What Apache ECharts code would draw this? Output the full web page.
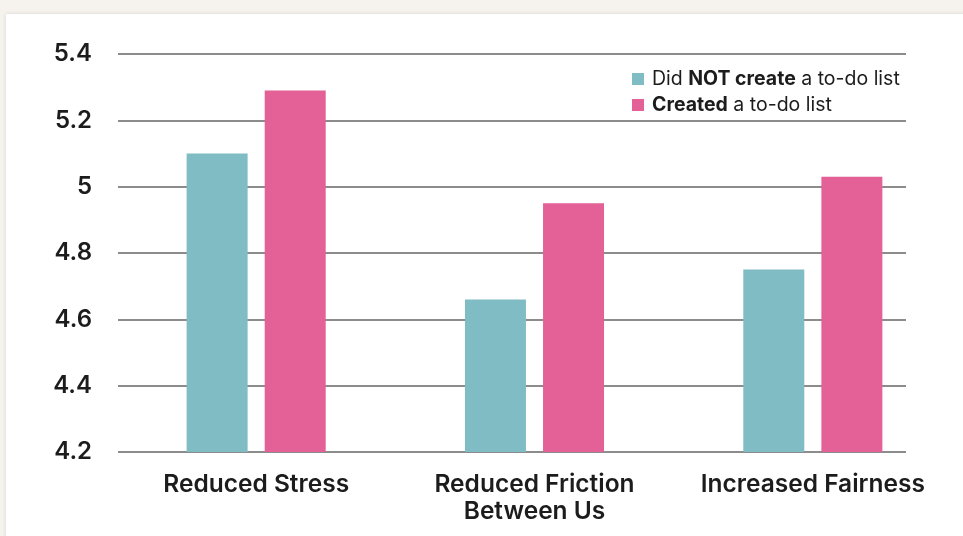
<!DOCTYPE html>
<html>
<head>
<meta charset="utf-8">
<script src="https://cdn.jsdelivr.net/npm/echarts@6/dist/echarts.min.js"></script>
<style>
  html, body { margin: 0; padding: 0; background: #f6f2ee; }
  #chart { width: 963px; height: 536px; }
</style>
</head>
<body>
<div id="chart"></div>
<script>
// Survey outcomes (mean ratings) with and without a to-do list
const categories = ['Reduced Stress', 'Reduced Friction\nBetween Us', 'Increased Fairness'];
const seriesNames = ['Did NOT create a to-do list', 'Created a to-do list'];
const noListValues = [5.10, 4.66, 4.75];
const listValues = [5.29, 4.95, 5.03];
const yMin = 4.2;
const yMax = 5.4;
const yStep = 0.2;

const teal = '#80bcc4';
const pink = '#e36196';
const ink = '#1c1c1c';

const chart = echarts.init(document.getElementById('chart'));

const legendRich = {
  r: { fontFamily: 'Inter', fontSize: 19.5, color: ink, lineHeight: 20 },
  b: { fontFamily: 'Inter', fontSize: 19.5, fontWeight: 'bold', color: ink, lineHeight: 20 }
};

chart.setOption({
  backgroundColor: 'transparent',
  animation: false,
  graphic: [{
    type: 'rect',
    shape: { x: 6, y: 14, width: 970, height: 540 },
    style: { fill: '#ffffff', shadowBlur: 4, shadowColor: 'rgba(0,0,0,0.12)' },
    z: -10
  }],
  grid: [
    { left: 118, right: 57, top: 54, bottom: 84 },
    { left: 117, right: 11, top: 54, bottom: 84 }
  ],
  xAxis: [
    { gridIndex: 0, type: 'category', data: categories, show: false },
    {
      gridIndex: 1, type: 'category', data: categories,
      axisLine: { show: false }, axisTick: { show: false },
      axisLabel: {
        margin: 19, fontFamily: 'Inter', fontWeight: 600, fontSize: 24.5,
        color: ink, lineHeight: 27, interval: 0
      }
    }
  ],
  yAxis: [
    {
      gridIndex: 0, type: 'value', min: yMin, max: yMax, interval: yStep,
      axisLine: { show: false }, axisTick: { show: false },
      axisLabel: {
        margin: 26, fontFamily: 'Inter', fontWeight: 600, fontSize: 24, color: ink,
        formatter: v => String(Math.round(v * 10) / 10)
      },
      splitLine: { lineStyle: { color: '#8c8c8c', width: 2 } }
    },
    {
      gridIndex: 1, type: 'value', min: yMin, max: yMax, interval: yStep,
      show: false, splitLine: { show: false }
    }
  ],
  legend: {
    orient: 'vertical', left: 627, top: 64,
    icon: 'rect', itemWidth: 12, itemHeight: 12, itemGap: 6,
    data: seriesNames,
    formatter: name => name === seriesNames[0]
      ? '{r|Did }{b|NOT create}{r| a to-do list}'
      : '{b|Created}{r| a to-do list}',
    textStyle: { padding: [0, 0, 0, 3], rich: legendRich }
  },
  series: [
    {
      name: seriesNames[0], type: 'bar', xAxisIndex: 1, yAxisIndex: 1,
      data: noListValues, barWidth: 61, barGap: '28%',
      itemStyle: { color: teal }
    },
    {
      name: seriesNames[1], type: 'bar', xAxisIndex: 1, yAxisIndex: 1,
      data: listValues, barWidth: 61, barGap: '28%',
      itemStyle: { color: pink }
    }
  ]
});
</script>
</body>
</html>
